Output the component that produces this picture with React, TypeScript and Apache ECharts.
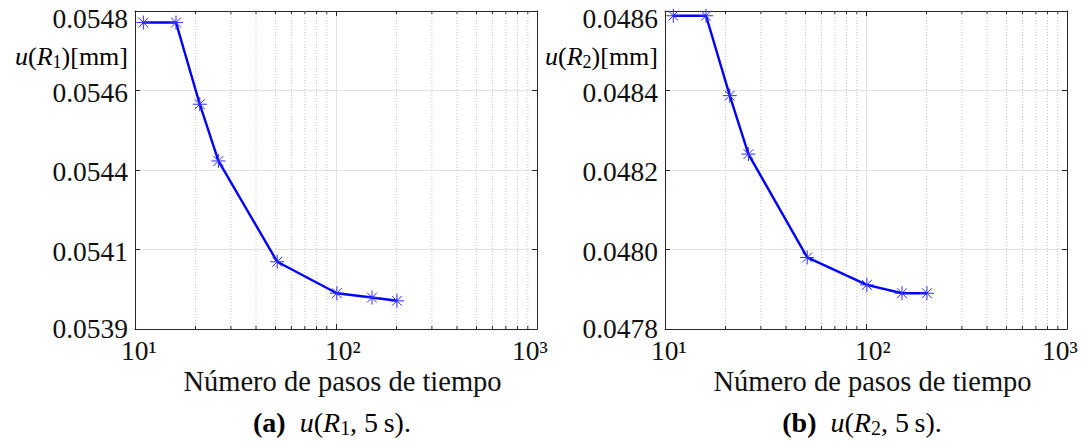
import React, { useEffect, useRef } from "react";
import * as echarts from "echarts";

// ---- data ----
const steps = [11, 16, 21, 26, 51, 101, 151, 201];
const uR1 = [0.054748, 0.054748, 0.054522, 0.054365, 0.054086, 0.053999, 0.053987, 0.053978];
const uR2 = [0.048588, 0.048588, 0.048387, 0.04824, 0.04798, 0.047911, 0.04789, 0.04789];
const xTickValues = [10, 100, 1000];
const xTickLabels = ["10\u00B9", "10\u00B2", "10\u00B3"];
const yTicksLeft = ["0.0539", "0.0541", "0.0544", "0.0546", "0.0548"];
const yTicksRight = ["0.0478", "0.0480", "0.0482", "0.0484", "0.0486"];
const minorX = [20, 30, 40, 50, 60, 70, 80, 90, 200, 300, 400, 500, 600, 700, 800, 900];

const FONT = "Liberation Serif";
const TXT = "#111111";
const AX = "#262626";
const BLUE = "#0000ff";

const panels = [
  { left: 135, vals: uR1, min: 0.0539, max: 0.05478, interval: 0.00022, ticks: yTicksLeft, sub: "1", tag: "(a)" },
  { left: 665, vals: uR2, min: 0.0478, max: 0.0486, interval: 0.0002, ticks: yTicksRight, sub: "2", tag: "(b)" },
];
const GRID_TOP = 11;
const GRID_W = 402;
const GRID_H = 318;
const TICK_FS = 27.5;
const XLABEL_SHIFT = [-14, -11, -25];

const asterisk = "path://M0,5L10,5M5,0L5,10M1.5,1.5L8.5,8.5M8.5,1.5L1.5,8.5";

function richSet(size: number) {
  const s = Math.round(size * 0.7);
  return {
    n: { fontFamily: FONT, fontSize: size, color: TXT, lineHeight: size + 4 },
    i: { fontFamily: FONT, fontSize: size, color: TXT, fontStyle: "italic", lineHeight: size + 4 },
    b: { fontFamily: FONT, fontSize: size, color: TXT, fontWeight: "bold", lineHeight: size + 4 },
    sub: { fontFamily: FONT, fontSize: s, color: TXT, verticalAlign: "bottom", lineHeight: s },
  };
}

export default function App() {
  const ref = useRef<HTMLDivElement>(null);
  useEffect(() => {
    if (!ref.current) return;
    const chart = echarts.init(ref.current, null, { renderer: "svg" });
    const grid: any[] = [];
    const xAxis: any[] = [];
    const yAxis: any[] = [];
    const series: any[] = [];
    const graphic: any[] = [];
    const meta: any[] = [];
    panels.forEach((p, g) => {
      grid.push({ left: p.left, top: GRID_TOP, width: GRID_W, height: GRID_H });
      xAxis.push({
        type: "log", logBase: 10, gridIndex: g, min: 10, max: 1000, position: "bottom",
        axisLine: { show: true, lineStyle: { color: AX, width: 1 } },
        axisTick: { show: true, inside: true, length: 5, lineStyle: { color: AX } },
        axisLabel: { show: false },
        splitLine: { show: true, lineStyle: { color: "#e2e2e2", width: 1 } },
      });
      xAxis.push({
        type: "log", logBase: 10, gridIndex: g, min: 10, max: 1000, position: "top",
        axisLine: { show: true, lineStyle: { color: AX, width: 1 } },
        axisTick: { show: true, inside: true, length: 5, lineStyle: { color: AX } },
        axisLabel: { show: false },
        splitLine: { show: false },
      });
      yAxis.push({
        type: "value", gridIndex: g, min: p.min, max: p.max, interval: p.interval, position: "left",
        axisLine: { show: true, lineStyle: { color: AX, width: 1 } },
        axisTick: { show: true, inside: true, length: 5, lineStyle: { color: AX } },
        axisLabel: { show: false },
        splitLine: { show: true, lineStyle: { color: "#e2e2e2", width: 1 } },
      });
      yAxis.push({
        type: "value", gridIndex: g, min: p.min, max: p.max, interval: p.interval, position: "right",
        axisLine: { show: true, lineStyle: { color: AX, width: 1 } },
        axisTick: { show: true, inside: true, length: 5, lineStyle: { color: AX } },
        axisLabel: { show: false },
        splitLine: { show: false },
      });
      series.push({
        type: "custom", xAxisIndex: 2 * g, yAxisIndex: 2 * g, silent: true, z: 1,
        data: minorX.map((x) => [x, p.min]),
        renderItem: (_params: any, api: any) => {
          const x = api.value(0);
          const top = api.coord([x, p.max]);
          const bot = api.coord([x, p.min]);
          return {
            type: "group",
            children: [
              { type: "line", shape: { x1: top[0], y1: top[1], x2: bot[0], y2: bot[1] }, style: { stroke: "#c4c4c4", lineWidth: 1, lineDash: [1, 2] } },
              { type: "line", shape: { x1: bot[0], y1: bot[1], x2: bot[0], y2: bot[1] - 3 }, style: { stroke: AX, lineWidth: 1 } },
              { type: "line", shape: { x1: top[0], y1: top[1], x2: top[0], y2: top[1] + 3 }, style: { stroke: AX, lineWidth: 1 } },
            ],
          };
        },
      });
      series.push({
        type: "line", xAxisIndex: 2 * g, yAxisIndex: 2 * g, z: 5,
        data: steps.map((s, i) => [s, p.vals[i]]),
        symbol: asterisk, symbolSize: 14,
        itemStyle: { color: "rgba(0,0,0,0)", borderColor: "#2b2bff", borderWidth: 1 },
        lineStyle: { color: BLUE, width: 2.4 },
      });
      p.ticks.forEach((label, i) => {
        const id = `yl${g}_${i}`;
        graphic.push({
          type: "text", id, x: 0, y: 0,
          style: { text: label, fontFamily: FONT, fontSize: TICK_FS, fill: TXT, align: "right", verticalAlign: "middle", lineHeight: 20 },
        });
        meta.push({ id, g, yval: p.min + i * p.interval, pos: i === 0 ? "bottom" : i === p.ticks.length - 1 ? "top" : "mid" });
      });
      xTickValues.forEach((v, i) => {
        const id = `xl${g}_${i}`;
        graphic.push({
          type: "text", id, x: 0, y: 0,
          style: { text: xTickLabels[i], fontFamily: FONT, fontSize: TICK_FS, fill: TXT, align: "left", verticalAlign: "top", lineHeight: 22 },
        });
        meta.push({ id, g, xval: v, shift: XLABEL_SHIFT[i] });
      });
      graphic.push({
        type: "text", x: p.left - 7, y: 56,
        style: {
          text: `{i|u}{n|(}{i|R}{sub|${p.sub}}{n|)[mm]}`,
          rich: richSet(26), align: "right", verticalAlign: "middle",
        },
      });
      graphic.push({
        type: "text", x: p.left + GRID_W / 2 + 6.5, y: 381,
        style: {
          text: "Número de pasos de tiempo", fontFamily: FONT, fontSize: 28.5, fill: TXT,
          align: "center", verticalAlign: "middle",
        },
      });
      graphic.push({
        type: "text", x: p.left + GRID_W / 2 - 4, y: 422,
        style: {
          text: `{b|${p.tag}}{n|\u2002}{i|u}{n|(}{i|R}{sub|${p.sub}}{n|, 5\u2009s).}`,
          rich: richSet(28), align: "center", verticalAlign: "middle",
        },
      });
    });
    chart.setOption({ animation: false, backgroundColor: "#ffffff", grid, xAxis, yAxis, series, graphic });
    // position tick labels through the axes' own scales
    const upd = meta.map((m) => {
      if (m.yval !== undefined) {
        const py = chart.convertToPixel({ yAxisIndex: 2 * m.g }, m.yval) as number;
        const dy = m.pos === "top" ? 7 : m.pos === "bottom" ? -1 : 1.5;
        return { id: m.id, x: panels[m.g].left - 7, y: py + dy };
      }
      const px = chart.convertToPixel({ xAxisIndex: 2 * m.g }, m.xval) as number;
      return { id: m.id, x: px + m.shift, y: GRID_TOP + GRID_H + 10 };
    });
    chart.setOption({ graphic: upd });
    return () => chart.dispose();
  }, []);
  return <div ref={ref} style={{ position: "absolute", left: 0, top: 0, width: 1086, height: 445 }} />;
}
